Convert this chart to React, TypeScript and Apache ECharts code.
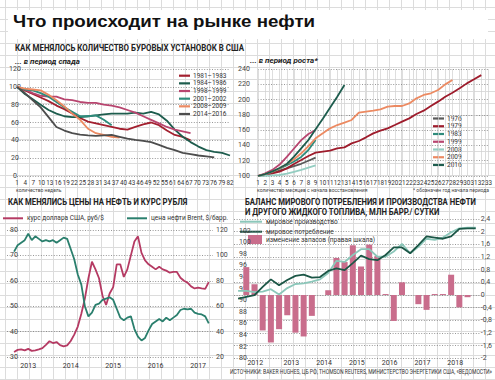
import React, { useEffect, useRef } from "react";
import * as echarts from "echarts";

// ---------- Top-left: US rig count in downturns (index = 100 at start), by week ----------
const weeksTL = [1, 4, 7, 10, 13, 16, 19, 22, 25, 28, 31, 34, 37, 40, 43, 46, 49, 52, 55, 58, 61, 64, 67, 70, 73, 76, 79, 82];
const weekLabelsTL = ["1", "4", "7", "10", "13", "16", "19", "22", "25", "28", "31", "34", "37", "40", "43", "46", "49", "52", "55", "61", "64", "67", "70", "73", "76", "79", "82"];
const rigs1981 = [100, 96, 92, 88, 84, 79, 75, 70, 65, 61, 59, 57, 55, 53, 52, 55, 58, 60, 57, 51, 46, 44, 40];
const rigs1984 = [100, 92, 86, 80, 74, 70, 67, 66, 66, 67, 68, 69, 70, 70, 70, 71, 70, 72, 69, 62, 52, 44, 38, 33, 29, 27, 26, 23];
const rigs1998 = [100, 97, 93, 90, 89, 89, 86, 85, 83, 82, 82, 80, 79, 77, 74, 71, 67, 63, 59, 55, 52, 50, 48];
const rigs2001 = [100, 97, 96, 93, 89, 83, 77, 72, 67, 67, 68, 63, 57];
const rigs2008 = [100, 98, 97, 96, 91, 85, 78, 70, 63, 53, 48, 46, 44, 43];
const rigs2014 = [100, 93, 85, 77, 66, 55, 51, 48, 46.5, 45.5, 45, 45.5, 46, 44, 42, 40.5, 39.5, 38, 35, 31.5, 29, 26, 24.5, 23, 22, 21];
const namesTL = ["1981–1983", "1984–1986", "1998–1999", "2001–2002", "2008–2009", "2014–2016"];
const colorsTL = ["#a3202f", "#1d5c4d", "#b8456f", "#2e8b7b", "#ec8a62", "#4d4d4d"];

// ---------- Top-right: rig count in recoveries, by month ----------
const monthsTR = ["1", "2", "3", "4", "5", "6", "7", "8", "9", "10", "11", "12", "13", "14", "15", "16", "17", "18", "19", "20", "21", "22", "23", "24", "25", "26", "27", "28", "29", "30", "31", "32", "33"];
const rec1976 = [100, 102, 104.5, 107, 110, 113, 116, 120, 124];
const rec1979 = [100, 101.3, 103.5, 105.7, 110, 115.7, 120.9, 126.2, 130.5, 131.8, 133.1, 136.2, 137.5, 142.7, 145.8, 150.6, 155.8, 159.3, 162.4, 166.7, 171.1, 175.4, 181.1, 185.5, 191.6, 197.3, 203.8, 209, 214.7, 221.2, 226.5, 232];
const rec1983 = [100, 102.5, 105.5, 109.5, 114, 119, 125, 134, 147];
const rec1999 = [100, 103.5, 108, 115, 125, 136, 147, 155, 160];
const rec2008 = [100, 100.3, 100.8, 101.3, 103, 105.5, 108, 111, 114];
const rec2009 = [100, 102.6, 105.7, 110, 115.7, 121.8, 129.7, 139.2, 149.3, 155.8, 162.4, 166.7, 169.8, 173.3, 182.9, 184.2, 185.5, 187.2, 190.7, 191.6, 191.6, 195, 201.6, 206, 208.2, 212.5, 219.9, 225.6];
const rec2016 = [100, 102.6, 106.1, 110.5, 115.7, 125.3, 136.2, 147.1, 161.1, 175, 189.4, 203.8, 219.1];
const namesTR = ["1976", "1979", "1983", "1999", "2008", "2009", "2016"];
const colorsTR = ["#5a5a5a", "#9e1c2c", "#2e8b7b", "#b8456f", "#94cdc1", "#ec8a62", "#1d5c4d"];

// ---------- Bottom-left: USD/RUB and Brent, monthly ----------
const monthsBL = [
  "2013-03", "2013-04", "2013-05", "2013-06", "2013-07", "2013-08", "2013-09", "2013-10", "2013-11", "2013-12",
  "2014-01", "2014-02", "2014-03", "2014-04", "2014-05", "2014-06", "2014-07", "2014-08", "2014-09", "2014-10", "2014-11", "2014-12",
  "2015-01", "2015-02", "2015-03", "2015-04", "2015-05", "2015-06", "2015-07", "2015-08", "2015-09", "2015-10", "2015-11", "2015-12",
  "2016-01", "2016-02", "2016-03", "2016-04", "2016-05", "2016-06", "2016-07", "2016-08", "2016-09", "2016-10", "2016-11", "2016-12",
  "2017-01", "2017-02", "2017-03", "2017-04", "2017-05", "2017-06", "2017-07", "2017-08", "2017-09", "2017-10",
];
const usdRub = [32, 32.8, 33, 32.6, 33.2, 32.4, 32.6, 33, 33.5, 34.8, 36.2, 35.5, 35.9, 34.7, 34.2, 34.6, 36.3, 38.8, 42, 47, 53, 61, 67.5, 64.5, 61, 54, 50.5, 55, 57.5, 66.5, 66.5, 61.5, 64.5, 70, 75.5, 77.5, 71, 68, 66.5, 65.5, 64.5, 65.5, 64.5, 64, 63.2, 63.5, 63.5, 61.2, 60, 59.3, 57.8, 57, 57.3, 57, 56.8, 59.5];
const brent = [103, 108, 110, 112, 117, 112, 115, 113, 111, 112, 111, 112, 110, 112, 114, 113, 105, 97, 85, 77, 60, 52, 55, 61, 62, 65, 66, 67, 65, 58, 51, 49, 51, 52, 42, 36, 33, 35, 41, 46, 48, 50, 48, 51, 49, 51, 53, 57, 58, 57.5, 58, 55, 54, 53.5, 52, 46.5];
const yearLabelsBL = [2013.5, 2014.5, 2015.5, 2016.5, 2017.5];

// ---------- Bottom-right: world liquids balance, quarterly ----------
const quartersBR = [0, 1, 2, 3, 4, 5, 6, 7, 8, 9, 10, 11, 12, 13, 14, 15, 16, 17, 18, 19, 20, 21, 22, 23, 24, 25, 26, 27, 28, 29];
const production = [91.6, 91.6, 91.4, 91.5, 91.9, 91.0, 92.1, 92.8, 92.9, 93.2, 93.6, 94.7, 96.8, 96.6, 97.8, 98.8, 98.8, 97.5, 97.5, 98.4, 99.7, 98.1, 99.2, 100.6, 100.4, 100.8, 101.7, 102.4, 102.5, 102.5];
const consumption = [90.3, 90.6, 90.9, 92.3, 93.6, 92.6, 93.5, 94.2, 94.4, 93.9, 94.0, 95.05, 95.5, 95.2, 96.4, 97.7, 97.1, 96.9, 97.8, 99.1, 99.1, 98.1, 99.5, 101.0, 100.8, 100.6, 101.0, 102.3, 102.4, 102.4];
const stockChange = [0.88, 0.34, -1.12, -1.5, -1.08, -0.64, -1.19, -1.31, -0.66, 0, 0.15, 1.17, 1.04, 1.57, 0.9, 1.59, 1.23, 0.03, -0.82, 0.4, 0, -0.29, -0.47, 0.03, 0.03, 0.64, -0.39, -0.07];
const yearsBR = ["2012", "2013", "2014", "2015", "2016", "2017", "2018"];
const yearPosBR = [2.1, 6.5, 10.5, 14.5, 18.5, 22.5, 26.5];

const FONT = "Roboto, 'Noto Sans', sans-serif";

export default function App() {
  const ref = useRef<HTMLDivElement>(null);

  useEffect(() => {
    const chart = echarts.init(ref.current!, null, { renderer: "svg" });

    const dotted = { show: true, lineStyle: { color: "#6a6a6a", width: 0.7, type: [1, 1.6] as any } };
    const noLine = { show: false };
    const lbl = (extra: any) => ({ fontSize: 7, color: "#444", fontFamily: FONT, ...extra });

    const txt = (x: number, y: number, text: string, font: string, opts: any = {}) => ({
      type: "text",
      x,
      y,
      silent: true,
      scaleX: opts.scaleX ?? 1,
      style: {
        text,
        font,
        fill: opts.fill ?? "#222",
        textAlign: opts.align ?? "left",
        textVerticalAlign: "middle",
      },
    });
    const seg = (x1: number, y1: number, x2: number, y2: number, stroke: string, w = 2) => ({
      type: "line",
      silent: true,
      shape: { x1, y1, x2, y2 },
      style: { stroke, lineWidth: w },
    });

    const headFont = `bold 9px ${FONT}`;
    const subFont = `italic bold 8px ${FONT}`;
    const legFont = `6.5px ${FONT}`;
    const tinyFont = `5px ${FONT}`;

    const tlSeries = [rigs1981, rigs1984, rigs1998, rigs2001, rigs2008, rigs2014].map((arr, k) => ({
      type: "line",
      name: namesTL[k],
      xAxisIndex: 0,
      yAxisIndex: 0,
      symbol: "none",
      lineStyle: { color: colorsTL[k], width: 1.8 },
      itemStyle: { color: colorsTL[k] },
      data: arr.map((v, i) => [weeksTL[i], v]),
    }));

    const trSeries = [rec1976, rec1979, rec1983, rec1999, rec2008, rec2009, rec2016].map((arr, k) => ({
      type: "line",
      name: namesTR[k],
      xAxisIndex: 2,
      yAxisIndex: 1,
      symbol: "none",
      lineStyle: { color: colorsTR[k], width: 1.8 },
      itemStyle: { color: colorsTR[k] },
      data: arr,
    }));

    const toYear = (s: string) => {
      const [y, m] = s.split("-").map(Number);
      return y + (m - 1) / 12;
    };

    const graphics: any[] = [
      { type: "rect", silent: true, shape: { x: 8, y: 10, width: 480, height: 29 }, style: { fill: "#fff" } },
      txt(13, 21.5, "Что происходит на рынке нефти", "bold 17px 'Liberation Sans', Arial, sans-serif", { fill: "#111", scaleX: 1.1 }),
      // panel titles
      txt(15, 47.5, "КАК МЕНЯЛОСЬ КОЛИЧЕСТВО БУРОВЫХ УСТАНОВОК В США", headFont, { scaleX: 0.88 }),
      txt(15, 61, "... в период спада", subFont),
      txt(250, 60, "... в период роста*", subFont),
      txt(8, 201.5, "КАК МЕНЯЛИСЬ ЦЕНЫ НА НЕФТЬ И КУРС РУБЛЯ", headFont, { scaleX: 0.86 }),
      txt(245, 201.5, "БАЛАНС МИРОВОГО ПОТРЕБЛЕНИЯ И ПРОИЗВОДСТВА НЕФТИ", headFont, { scaleX: 0.86 }),
      txt(245, 211.5, "И ДРУГОГО ЖИДКОГО ТОПЛИВА, МЛН БАРР./ СУТКИ", headFont, { scaleX: 0.86 }),
      // footnotes
      txt(16, 190, "количество недель", tinyFont, { fill: "#444" }),
      txt(257, 190, "количество месяцев с начала восстановления", tinyFont, { fill: "#444" }),
      txt(489, 190, "* обозначен год начала периода", tinyFont, { fill: "#444", align: "right" }),
      txt(230, 371.5, "ИСТОЧНИКИ: BAKER HUGHES, ЦБ РФ, THOMSON REUTERS, МИНИСТЕРСТВО ЭНЕРГЕТИКИ США, «ВЕДОМОСТИ»", `6.3px ${FONT}`, { fill: "#333", scaleX: 0.8 }),
      // bottom-left legend
      seg(3, 218.3, 23, 218.3, "#b53a63", 2),
      txt(27, 218.3, "курс доллара США, руб/$", legFont, { fill: "#333" }),
      seg(127, 218.3, 147, 218.3, "#2a7f6d", 2),
      txt(151, 218.3, "цена нефти Brent, $/барр.", legFont, { fill: "#333" }),
      // bottom-right legend
      seg(240, 221.7, 262, 221.7, "#8cc7ba", 2),
      txt(266, 221.7, "мировое производство", legFont, { fill: "#333" }),
      seg(240, 231.7, 262, 231.7, "#1b5646", 2),
      txt(266, 231.7, "мировое потребление", legFont, { fill: "#333" }),
      { type: "rect", silent: true, shape: { x: 248, y: 235, width: 14, height: 9 }, style: { fill: "#c96d8c" } },
      txt(266, 239.5, "изменение запасов (правая шкала)", legFont, { fill: "#333" }),
    ];
    namesTL.forEach((n, k) => {
      const y = 75.7 + k * 7.66;
      graphics.push(seg(179, y, 190, y, colorsTL[k], 2.2));
      graphics.push(txt(193, y, n, legFont, { fill: "#333" }));
    });
    namesTR.forEach((n, k) => {
      const y = 118.5 + k * 7.75;
      graphics.push(seg(433, y, 444, y, colorsTR[k], 2.2));
      graphics.push(txt(447, y, n, legFont, { fill: "#333" }));
    });

    const option: any = {
      animation: false,
      backgroundColor: "transparent",
      textStyle: { fontFamily: FONT },
      grid: [
        { left: 17, top: 69, width: 213, height: 107 },
        { left: 258, top: 69, width: 233, height: 107 },
        { left: 7, top: 230, width: 206, height: 127 },
        { left: 234, top: 219, width: 250, height: 139.3 },
      ],
      xAxis: [
        { gridIndex: 0, type: "value", position: "top", min: 1, max: 82, show: false },
        {
          gridIndex: 0, type: "category", position: "bottom", data: weekLabelsTL, boundaryGap: false,
          axisLine: noLine, axisTick: noLine, splitLine: noLine,
          axisLabel: lbl({ fontSize: 6.3, interval: 0, margin: 4, color: "#333" }),
        },
        {
          gridIndex: 1, type: "category", position: "bottom", data: monthsTR, boundaryGap: false,
          axisLine: noLine, axisTick: noLine,
          splitLine: { show: true, lineStyle: { color: "#d0d0d0", width: 0.7 } },
          axisLabel: lbl({ fontSize: 6.3, interval: 0, margin: 4, color: "#333" }),
        },
        {
          gridIndex: 2, type: "value", position: "bottom", min: 2013, max: 2017.85, interval: 0.5,
          axisLine: noLine, axisTick: noLine, splitLine: noLine,
          axisLabel: lbl({
            margin: 5, color: "#333",
            formatter: (v: number) => (yearLabelsBL.some((p) => Math.abs(p - v) < 0.01) ? String(Math.floor(v)) : ""),
          }),
        },
        {
          gridIndex: 3, type: "value", position: "bottom", min: -0.5, max: 29.5,
          axisLine: noLine, axisTick: noLine, splitLine: noLine,
          axisLabel: lbl({
            margin: 1.5, color: "#333", customValues: yearPosBR,
            formatter: (v: number) => {
              const i = yearPosBR.findIndex((p) => Math.abs(p - v) < 0.01);
              return i >= 0 ? yearsBR[i] : "";
            },
          }),
        },
      ],
      yAxis: [
        {
          gridIndex: 0, type: "value", min: 0, max: 120, interval: 20,
          axisLine: noLine, axisTick: noLine, splitLine: dotted,
          axisLabel: lbl({ margin: 2, align: "center" }),
        },
        {
          gridIndex: 1, type: "value", min: 100, max: 240, interval: 20,
          axisLine: noLine, axisTick: noLine, splitLine: dotted,
          axisLabel: lbl({ margin: 14, align: "center" }),
        },
        {
          gridIndex: 2, type: "value", min: 30, max: 80, interval: 10,
          axisLine: noLine, axisTick: noLine, splitLine: dotted,
          axisLabel: lbl({ inside: true, margin: 3 }),
        },
        {
          gridIndex: 2, type: "value", position: "right", min: 20, max: 120, interval: 20,
          axisLine: noLine, axisTick: noLine, splitLine: noLine,
          axisLabel: lbl({ margin: 3 }),
        },
        {
          gridIndex: 3, type: "value", min: 80, max: 104, interval: 2,
          axisLine: noLine, axisTick: noLine, splitLine: noLine,
          axisLabel: lbl({ inside: true, margin: 5, formatter: (v: number) => (v > 102.5 ? "" : String(v)) }),
        },
        {
          gridIndex: 3, type: "value", position: "right", min: -2, max: 2.4, interval: 0.4,
          axisLine: noLine, axisTick: noLine, splitLine: dotted,
          axisLabel: lbl({ margin: 1, formatter: (v: number) => String(Math.round(v * 10) / 10).replace(".", ",") }),
        },
      ],
      series: [
        ...tlSeries,
        ...trSeries,
        {
          type: "line", name: "курс доллара", xAxisIndex: 3, yAxisIndex: 2, symbol: "none",
          lineStyle: { color: "#b53a63", width: 1.8 },
          data: monthsBL.map((m, i) => [toYear(m), usdRub[i]]),
        },
        {
          type: "line", name: "Brent", xAxisIndex: 3, yAxisIndex: 3, symbol: "none",
          lineStyle: { color: "#2a7f6d", width: 1.8 },
          data: monthsBL.map((m, i) => [toYear(m), brent[i]]),
        },
        {
          type: "bar", name: "изменение запасов", xAxisIndex: 4, yAxisIndex: 5, barWidth: 6,
          itemStyle: { color: "#c96d8c" },
          data: stockChange.map((v, j) => [j + 1, v]),
        },
        {
          type: "line", name: "мировое производство", xAxisIndex: 4, yAxisIndex: 4, symbol: "none",
          lineStyle: { color: "#8cc7ba", width: 1.8 },
          data: quartersBR.map((q, i) => [q, production[i]]),
        },
        {
          type: "line", name: "мировое потребление", xAxisIndex: 4, yAxisIndex: 4, symbol: "none",
          lineStyle: { color: "#1b5646", width: 1.8 },
          data: quartersBR.map((q, i) => [q, consumption[i]]),
        },
      ],
      graphic: graphics,
    };

    chart.setOption(option);
    return () => chart.dispose();
  }, []);

  return (
    <div
      ref={ref}
      style={{
        position: "fixed",
        left: 0,
        top: 0,
        width: 495,
        height: 380,
        backgroundColor: "#fff",
        backgroundImage:
          "linear-gradient(to right, #dcdcdc 1px, transparent 1px), linear-gradient(to bottom, #dcdcdc 1px, transparent 1px)",
        backgroundSize: "12px 12px",
        backgroundPosition: "5px 7px",
      }}
    />
  );
}
